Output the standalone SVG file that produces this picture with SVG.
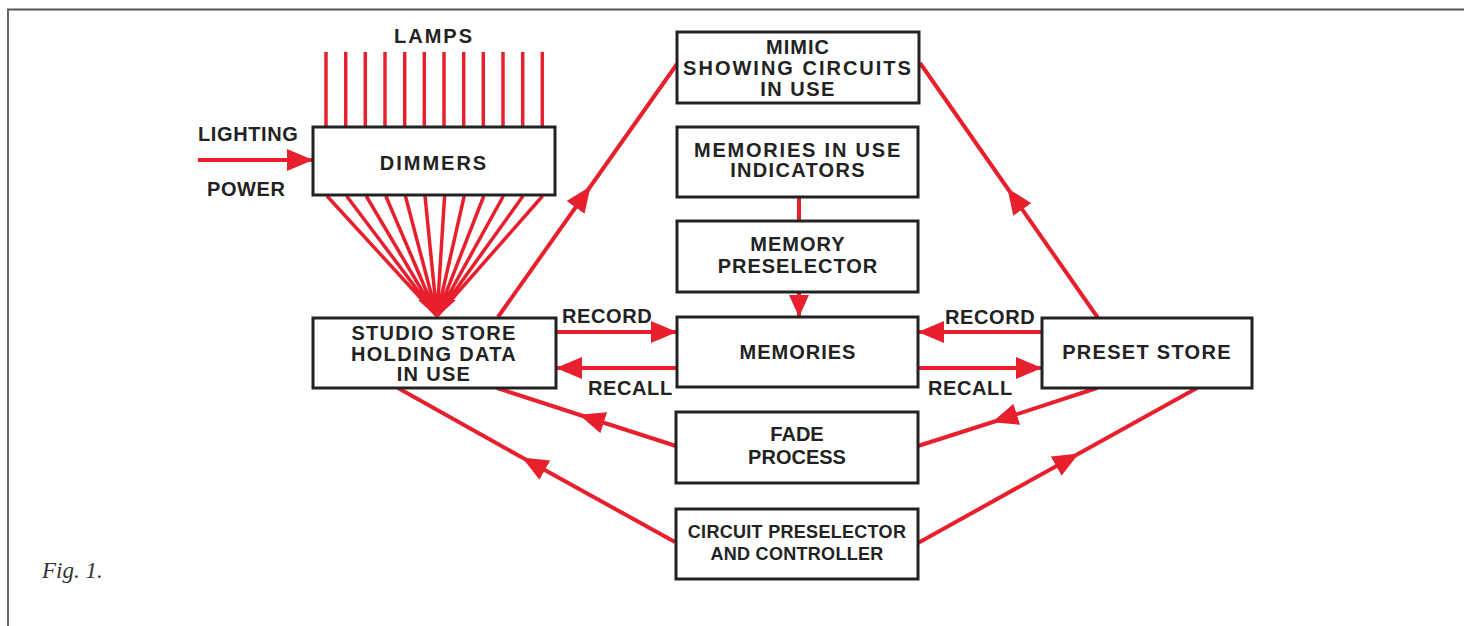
<svg xmlns="http://www.w3.org/2000/svg" width="1464" height="626" viewBox="0 0 1464 626">
<style>
.box{fill:#fff;stroke:#222;stroke-width:3}
.t{font-family:"Liberation Sans",Arial,sans-serif;font-weight:bold;font-size:20px;fill:#222;text-anchor:middle;letter-spacing:1px}
.tn{letter-spacing:0}
.tc{font-size:18px;letter-spacing:0.3px}
.lbl{font-family:"Liberation Sans",Arial,sans-serif;font-weight:bold;font-size:20px;fill:#222;letter-spacing:0.6px}
.r{stroke:#e8202e;stroke-width:4;fill:none}
.rt{stroke:#e8202e;stroke-width:3.5;fill:none}
.fig{font-family:"Liberation Serif","Times New Roman",serif;font-style:italic;font-size:23px;fill:#333}
</style>
<defs>
<marker id="ah" markerUnits="userSpaceOnUse" markerWidth="26" markerHeight="22" refX="25" refY="11" orient="auto">
<path d="M0,0 L26,11 L0,22 z" fill="#e8202e"/>
</marker>
<marker id="ahs" markerUnits="userSpaceOnUse" markerWidth="22" markerHeight="20" refX="21" refY="10" orient="auto">
<path d="M0,0 L22,10 L0,20 z" fill="#e8202e"/>
</marker>
</defs>
<rect width="1464" height="626" fill="#fff"/>
<g id="frame" stroke="#555" stroke-width="1.8" fill="none">
<path d="M8,626 L8,9.5 L1464,9.5"/>
</g>
<g id="connectors">
<g id="lamps" class="rt">
<path d="M326,52V127M345.7,52V127M365.3,52V127M385,52V127M404.7,52V127M424.3,52V127M444,52V127M463.7,52V127M483.3,52V127M503,52V127M522.7,52V127M542.3,52V127"/>
</g>
<g id="fan" class="rt">
<path d="M327,196L437,316M346.6,196L437,316M366.2,196L437,316M385.8,196L437,316M405.4,196L437,316M425,196L437,316M444.6,196L437,316M464.2,196L437,316M483.8,196L437,316M503.4,196L437,316M523,196L437,316M542.6,196L437,316"/>
<path d="M418,300 L456,300 L437,317 z" fill="#e8202e" stroke="none"/>
</g>
<path class="r" d="M198,160 L312,160" marker-end="url(#ah)"/>
<path class="r" d="M799,197 L799,221"/>
<path class="r" d="M799,292 L799,316" marker-end="url(#ahs)"/>
<path class="r" d="M556,332 L676,332" marker-end="url(#ah)"/>
<path class="r" d="M677,368 L557,368" marker-end="url(#ah)"/>
<path class="r" d="M1042,332 L919,332" marker-end="url(#ah)"/>
<path class="r" d="M918,368 L1041,368" marker-end="url(#ah)"/>
<path class="r" d="M498,317 L590,187 L677,64" marker-mid="url(#ah)"/>
<path class="r" d="M1098,318 L1008,189 L920,63" marker-mid="url(#ah)"/>
<path class="r" d="M676,446 L580,415 L497,388" marker-mid="url(#ah)"/>
<path class="r" d="M675,542 L523,458 L398,388" marker-mid="url(#ah)"/>
<path class="r" d="M1097,388 L993,422 L918,446" marker-mid="url(#ah)"/>
<path class="r" d="M918,543 L1078,454 L1197,388" marker-mid="url(#ah)"/>
</g>
<g id="labels">
<text class="t" x="434" y="43" style="letter-spacing:2px">LAMPS</text>
<text class="lbl" x="198" y="141">LIGHTING</text>
<text class="lbl" x="207" y="196">POWER</text>
<text class="lbl" x="562" y="323">RECORD</text>
<text class="lbl" x="588" y="395">RECALL</text>
<text class="lbl" x="945" y="324">RECORD</text>
<text class="lbl" x="928" y="395">RECALL</text>
</g>
<g id="dimmers">
<rect class="box" x="313" y="127" width="242" height="68"/>
<text class="t" x="434" y="170" style="letter-spacing:2px">DIMMERS</text>
</g>
<g id="studio-store">
<rect class="box" x="313" y="318" width="243" height="70"/>
<text class="t" x="434" y="340" style="letter-spacing:1.3px">STUDIO STORE</text>
<text class="t" x="434" y="361" style="letter-spacing:1.3px">HOLDING DATA</text>
<text class="t" x="434" y="381" style="letter-spacing:1.3px">IN USE</text>
</g>
<g id="mimic">
<rect class="box" x="677" y="32" width="242" height="71"/>
<text class="t" x="798" y="54">MIMIC</text>
<text class="t" x="798" y="75" style="letter-spacing:2px">SHOWING CIRCUITS</text>
<text class="t" x="798" y="96" style="letter-spacing:1.5px">IN USE</text>
</g>
<g id="memories-in-use">
<rect class="box" x="677" y="127" width="241" height="70"/>
<text class="t" x="798" y="157" style="letter-spacing:1.8px">MEMORIES IN USE</text>
<text class="t" x="798" y="177" style="letter-spacing:1.3px">INDICATORS</text>
</g>
<g id="memory-preselector">
<rect class="box" x="677" y="221" width="241" height="71"/>
<text class="t" x="798" y="251">MEMORY</text>
<text class="t" x="798" y="273">PRESELECTOR</text>
</g>
<g id="memories">
<rect class="box" x="677" y="317" width="241" height="70"/>
<text class="t" x="798" y="359">MEMORIES</text>
</g>
<g id="preset-store">
<rect class="box" x="1042" y="318" width="210" height="70"/>
<text class="t" x="1147" y="359" style="letter-spacing:1.3px">PRESET STORE</text>
</g>
<g id="fade-process">
<rect class="box" x="676" y="412" width="242" height="71"/>
<text class="t tn" x="797" y="441">FADE</text>
<text class="t tn" x="797" y="464">PROCESS</text>
</g>
<g id="circuit-preselector">
<rect class="box" x="676" y="509" width="242" height="70"/>
<text class="t tc" x="797" y="538">CIRCUIT PRESELECTOR</text>
<text class="t tc" x="797" y="560">AND CONTROLLER</text>
</g>
<text class="fig" x="42" y="578">Fig. 1.</text>
</svg>
